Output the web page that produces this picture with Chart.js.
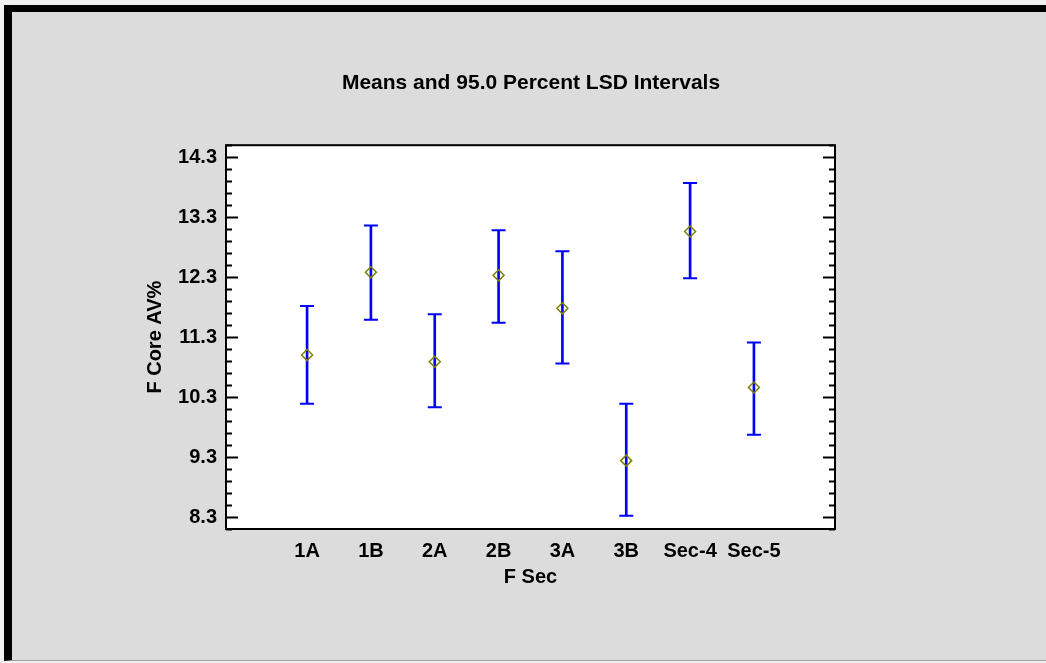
<!DOCTYPE html>
<html>
<head>
<meta charset="utf-8">
<script src="https://cdn.jsdelivr.net/npm/chart.js@4.4.0/dist/chart.umd.min.js"></script>
<style>
  html, body { margin: 0; padding: 0; background: #f0f0f0; overflow: hidden; }
  #frame { position: absolute; left: 4px; top: 5px; width: 1042px; height: 656px; box-sizing: border-box;
           background: #dcdcdc; border-left: 8px solid #000; border-top: 7px solid #000; border-bottom: 1px solid #a0a0a0; }
  #wrap { position: absolute; left: 0; top: 0; width: 1046px; height: 663px; }
</style>
</head>
<body>
<div id="frame"></div>
<div id="wrap"><canvas id="chart"></canvas></div>
<script>
var categories = ['1A', '1B', '2A', '2B', '3A', '3B', 'Sec-4', 'Sec-5'];
var means = [11.00, 12.38, 10.89, 12.33, 11.78, 9.24, 13.06, 10.46];
var lower = [10.19, 11.59, 10.13, 11.54, 10.86, 8.32, 12.28, 9.67];
var upper = [11.82, 13.16, 11.68, 13.08, 12.73, 10.19, 13.87, 11.21];
var yTicks = [8.3, 9.3, 10.3, 11.3, 12.3, 13.3, 14.3];

var boldFont = { family: "'Liberation Sans', Arial, sans-serif", size: 20, weight: 'bold', lineHeight: 1.2 };

var barData = [];
var capData = [];
var meanData = [];
for (var i = 0; i < categories.length; i++) {
  barData.push({ x: i, y: [lower[i], upper[i]] });
  capData.push({ x: i, y: lower[i] });
  capData.push({ x: i, y: upper[i] });
  meanData.push({ x: i, y: means[i] });
}

// white plot area, black box and inward tick marks on both sides
var plotBox = {
  id: 'plotBox',
  beforeDraw: function(chart) {
    var a = chart.chartArea;
    chart.ctx.save();
    chart.ctx.fillStyle = '#fff';
    chart.ctx.fillRect(a.left, a.top, a.right - a.left, a.bottom - a.top);
    chart.ctx.restore();
  },
  afterDraw: function(chart) {
    var ctx = chart.ctx;
    var a = chart.chartArea;
    var y = chart.scales.y;
    ctx.save();
    ctx.strokeStyle = '#000';
    ctx.lineWidth = 2;
    for (var t = 81; t <= 145; t += 2) {
      var py = Math.round(y.getPixelForValue(t / 10)) + 0.5;
      var len = (t - 83) % 10 === 0 ? 12 : 6;
      ctx.beginPath();
      ctx.moveTo(a.left, py);
      ctx.lineTo(a.left + len, py);
      ctx.moveTo(a.right, py);
      ctx.lineTo(a.right - len, py);
      ctx.stroke();
    }
    ctx.strokeRect(a.left, a.top, a.right - a.left, a.bottom - a.top);
    ctx.restore();
  }
};

var chart = new Chart(document.getElementById('chart'), {
  type: 'scatter',
  data: {
    datasets: [
      {
        type: 'scatter',
        data: meanData,
        pointStyle: 'rectRot',
        pointRadius: 5.5,
        borderColor: '#808000',
        borderWidth: 1.5,
        backgroundColor: 'rgba(0,0,0,0)',
        order: 0
      },
      {
        type: 'scatter',
        data: capData,
        pointStyle: 'line',
        pointRadius: 7,
        borderColor: '#0000ff',
        borderWidth: 2,
        order: 1
      },
      {
        type: 'bar',
        data: barData,
        backgroundColor: '#0000ff',
        borderWidth: 0,
        barThickness: 2,
        grouped: false,
        order: 2
      }
    ]
  },
  options: {
    responsive: true,
    maintainAspectRatio: false,
    animation: false,
    events: [],
    layout: { padding: { left: 16, right: 0, top: 0, bottom: 0 } },
    plugins: {
      legend: { display: false },
      tooltip: { enabled: false },
      title: {
        display: true,
        text: 'Means and 95.0 Percent LSD Intervals',
        color: '#000',
        font: { family: "'Liberation Sans', Arial, sans-serif", size: 21, weight: 'bold', lineHeight: 1.2 },
        padding: { top: 71, bottom: 49 }
      }
    },
    scales: {
      x: {
        type: 'linear',
        offset: false,
        min: -1.27,
        max: 8.27,
        afterBuildTicks: function(s) {
          s.ticks = categories.map(function(c, i) { return { value: i }; });
        },
        afterFit: function(s) { s.height = 134; },
        grid: { display: false, drawTicks: false },
        border: { display: false },
        ticks: {
          autoSkip: false,
          maxRotation: 0,
          padding: 10,
          color: '#000',
          font: boldFont,
          callback: function(v) { return categories[v]; }
        },
        title: { display: true, text: 'F Sec', color: '#000', font: boldFont, padding: { top: 0, bottom: 74 } }
      },
      y: {
        min: 8.1,
        max: 14.5,
        afterBuildTicks: function(s) {
          s.ticks = yTicks.map(function(v) { return { value: v }; });
        },
        afterFit: function(s) { s.width = 210; },
        grid: { display: false, drawTicks: false },
        border: { display: false },
        ticks: {
          padding: 9,
          color: '#000',
          font: boldFont,
          callback: function(v) { return v.toFixed(1); }
        },
        title: { display: true, text: 'F Core AV%', color: '#000', font: boldFont, padding: { top: 127, bottom: 0 } }
      },
      y2: {
        position: 'right',
        afterFit: function(s) { s.width = 211; },
        grid: { display: false, drawTicks: false },
        border: { display: false },
        ticks: { display: false }
      }
    }
  },
  plugins: [plotBox]
});
</script>
</body>
</html>
